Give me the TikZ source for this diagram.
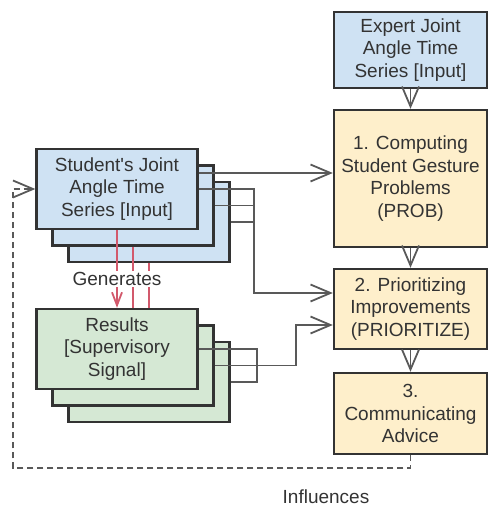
\documentclass[tikz,border=0pt]{standalone}
\usepackage{fontspec}
\setmainfont{Liberation Sans}
% same face without the TeX quote mapping, for a straight apostrophe
\newfontfamily\plainface{Liberation Sans}
\usetikzlibrary{arrows.meta}
\definecolor{inblue}{HTML}{CFE2F3}
\definecolor{resgreen}{HTML}{D5E8D4}
\definecolor{stepyellow}{HTML}{FEEFCB}
\definecolor{edgec}{HTML}{333333}
\definecolor{txtc}{HTML}{333333}
\definecolor{linegray}{HTML}{595959}
\definecolor{genred}{HTML}{D2596C}
\pgfdeclarelayer{bg}
\pgfdeclarelayer{mid}
\pgfsetlayers{bg,mid,main}
\begin{document}
\begin{tikzpicture}[x=1pt,y=-1pt,
  txtf/.style={font=\fontsize{19}{22.5}\selectfont, text=txtc},
  card/.style={draw=edgec, line width=2.4pt, inner sep=0pt, align=center, txtf},
  inbox/.style={card, fill=inblue, minimum width=161pt, minimum height=80pt},
  resbox/.style={card, fill=resgreen, minimum width=161pt, minimum height=80pt},
  stepbox/.style={card, fill=stepyellow, minimum width=153pt},
  conn/.style={draw=linegray, line width=1.8pt},
  tipg/.style={-{Straight Barb[length=20pt,width=17pt]}},
  redconn/.style={draw=genred, line width=1.8pt},
  tipr/.style={-{Straight Barb[length=13pt,width=10pt]}},
  dashconn/.style={draw=linegray, line width=1.8pt, dash pattern=on 6pt off 4pt},
  lbl/.style={txtf, inner sep=1pt}
]
\useasboundingbox (0,0) rectangle (488,508);

% stacked student inputs (back to front)
\begin{pgfonlayer}{bg}
  \node[inbox] (sC) at (149,222) {};
  \node[inbox] (sB) at (133,205.5) {};
  \node[inbox] (sA) at (117,189) {\plainface Student's Joint\\Angle Time\\Series [Input]};
\end{pgfonlayer}

% stacked supervisory results (back to front)
\node[resbox] (rC) at (149,382) {};
\node[resbox] (rB) at (133,365.5) {};
\node[resbox] (rA) at (117,349) {Results\\{[Supervisory}\\Signal]};

% "Generates" links, passing under the result stack
\begin{pgfonlayer}{mid}
  \draw[redconn] (sC.south) -- (rC.north);
  \draw[redconn] (sB.south) -- (rB.north);
  \draw[redconn, tipr] (sA.south) -- (rA.north);
  \node[lbl, fill=white] (gen) at (117,279) {Generates};
\end{pgfonlayer}

% processing pipeline
\node[stepbox, fill=inblue, minimum height=76pt] (ex) at (410.5,50)
  {Expert Joint\\Angle Time\\Series [Input]};
\node[stepbox, minimum height=137pt] (p1) at (410.5,178.5)
  {1. Computing\\Student Gesture\\Problems\\(PROB)};
\node[stepbox, minimum height=80pt] (p2) at (410.5,309)
  {2. Prioritizing\\Improvements\\(PRIORITIZE)};
\node[stepbox, minimum height=81pt] (p3) at (410.5,413.5)
  {3.\\Communicating\\Advice};

\draw[conn, tipg] (ex) -- (p1);
\draw[conn, tipg] (p1) -- (p2);
\draw[conn, tipg] (p2) -- (p3);

% student inputs to steps 1 and 2
\coordinate (t1) at ([yshift=16pt]sA.east);
\draw[conn, tipg] (t1) -- (t1 -| p1.west);
\coordinate (jS) at (254,189);
\coordinate (t2) at ([yshift=16pt]p2.west);
\draw[conn, tipg] (sA.east) -- (jS) |- (t2);
\draw[conn] (sB.east) -| (jS);
\draw[conn] (sC.east) -| (jS);

% results to step 2
\coordinate (jR) at (257,365.5);
\coordinate (t3) at ([yshift=-16pt]p2.west);
\coordinate (kR) at (296,325);
\draw[conn] (rA.east) -| (jR) |- (rC.east);
\draw[conn, tipg] (rB.east) -| (kR) -- (t3);

% feedback loop
\coordinate (dB) at (13,468);
\draw[dashconn, tipg] (p3.south) |- (dB) |- (sA.west);
\node[lbl] (infl) at (326,497) {Influences};
\end{tikzpicture}
\end{document}
